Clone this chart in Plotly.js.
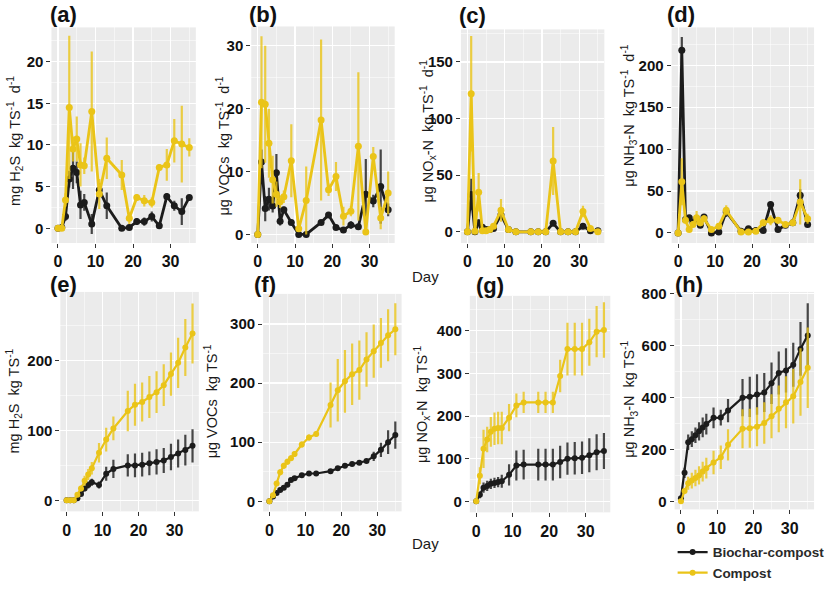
<!DOCTYPE html>
<html>
<head>
<meta charset="utf-8">
<script src="https://cdn.plot.ly/plotly-3.0.1.min.js"></script>
<style>html,body{margin:0;padding:0;background:#fff;}#chart{width:830px;height:589px;}</style>
</head>
<body>
<div id="chart"></div>
<script>
// ---- data ----
const days = [0,1,2,3,4,5,6,7,9,11,13,17,19,21,23,25,27,29,31,33,35];
const seriesNames = ["Biochar-compost", "Compost"];
const panelLabels = ["(a)","(b)","(c)","(d)","(e)","(f)","(g)","(h)"];
const yTitles = [
  "mg H<sub>2</sub>S\u00a0\u00a0kg TS<sup>-1</sup>\u00a0\u00a0d<sup>-1</sup>",
  "\u03bcg VOCs\u00a0\u00a0kg TS<sup>-1</sup>\u00a0\u00a0d<sup>-1</sup>",
  "\u03bcg NO<sub>x</sub>-N\u00a0\u00a0kg TS<sup>-1</sup>\u00a0\u00a0d<sup>-1</sup>",
  "\u03bcg NH<sub>3</sub>-N\u00a0\u00a0kg TS<sup>-1</sup>\u00a0\u00a0d<sup>-1</sup>",
  "mg H<sub>2</sub>S\u00a0\u00a0kg TS<sup>-1</sup>",
  "\u03bcg VOCs\u00a0\u00a0kg TS<sup>-1</sup>",
  "\u03bcg NO<sub>x</sub>-N\u00a0\u00a0kg TS<sup>-1</sup>",
  "\u03bcg NH<sub>3</sub>-N\u00a0\u00a0kg TS<sup>-1</sup>"
];
const xLabel = "Day";

// (a) H2S daily
const bc_a    = [0,0.1,1.4,5.9,7.2,6.7,2.8,3.1,0.5,4.6,2.7,0,0.1,0.8,0.8,1.4,0.3,3.8,2.7,2.0,3.7];
const bc_a_sd = [0.1,0.1,0.5,1.0,2.5,1.3,1.7,1.0,1.2,0.8,1.6,0.1,0.1,0.4,0.5,0.6,0.2,0.4,0.6,1.6,0.3];
const cp_a    = [0,0,3.4,14.5,9.5,10.7,7.6,7.5,14.0,4.1,8.4,6.4,1.2,3.7,3.3,3.1,7.3,7.6,10.5,10.1,9.7];
const cp_a_sd = [0.1,0.1,0.8,8.6,1.5,2.7,2.6,1.0,7.2,1.8,2.5,1.8,0.7,0.4,0.7,0.6,0.4,1.9,2.6,4.6,1.1];
// (b) VOCs daily
const bc_b    = [0,11.5,4.1,5.6,4.5,9.8,2.1,3.9,1.9,0,0,1.9,3.1,1.1,0.7,1.5,1.2,6.4,5.3,7.6,3.9];
const bc_b_sd = [0.1,2,2,1.8,1,3,0.7,0.5,0.4,0.2,0.2,0.4,0.3,0.3,0.3,0.6,0.3,5.6,1,5.9,1];
const cp_b    = [0,21,20.7,14.5,8.7,6.4,5.2,6.0,11.7,0.9,5.4,18.2,7.1,9.2,2.9,3.7,14.0,0.4,12.4,2.6,6.6];
const cp_b_sd = [0.1,10.5,9.3,5.5,3.8,2,1,1,5.8,0.5,5.4,12.8,1,2.3,1.5,0.8,11.8,0.3,1.5,1.8,3.4];
// (c) NOx-N daily
const bc_c    = [0,33,0,8,4,2,2,3,15,2,0,0,0,0,7.5,0,0,0,5,1,1];
const bc_c_sd = [0.5,14,0.5,3,2,1,1,1,3,1,0.3,0.3,0.3,0.3,2,0.3,0.3,0.3,2,0.5,0.5];
const cp_c    = [0,122,0.5,35,1,1,2,5,19,2,0,0,0,0,62.5,0,0,0,18,3,0];
const cp_c_sd = [0.5,51,0.5,17,1,1,1,2,10,1,0.3,0.3,0.3,0.3,30,0.3,0.3,0.3,5,1,0.3];
// (d) NH3-N daily
const bc_d    = [0,218,16,18,13,17,9,19,0,1,25,2,5,3,3,34,4,9,12,45,10];
const bc_d_sd = [1,16,3,3,3,3,3,3,1,1,6,1,1,1,1,3,2,2,2,7,2];
const cp_d    = [0,61,15,4,10,18,12,17,4,8,27,1,1,2,12,15,15,10,12,37,17];
const cp_d_sd = [1,28,4,3,4,8,4,4,2,3,6,1,1,1,4,6,4,2,3,27,6];
// (e) H2S cumulative
const bc_e    = [0,0,0,3,9,17,22,26,22,38,45,50,50,51,53,55,57,62,67,72,78];
const bc_e_sd = [0,0,0,1,2,4,5,5,5,10,13,16,17,17,17,18,18,19,20,22,24];
const cp_e    = [0,0,0,8,17,28,37,46,68,87,103,128,137,141,148,155,165,181,197,219,239];
const cp_e_sd = [0,0,0,2,4,7,8,9,14,17,17,29,30,28,30,30,30,31,36,41,43];
// (f) VOCs cumulative
const bc_f    = [0,8,14,19,23,28,36,39,44,47,47,51,56,60,63,65,68,76,87,100,112];
const bc_f_sd = [0,2,3,3,3,3,3,3,3,3,3,3,3,3,3,3,3,8,12,20,23];
const cp_f    = [0,10,30,49,60,67,73,80,96,108,114,163,188,203,215,222,240,254,268,281,291];
const cp_f_sd = [0,3,4,5,5,5,5,5,5,5,5,38,53,53,52,50,46,45,42,44,44];
// (g) NOx-N cumulative
const bc_g    = [0,15,32,36,41,43,45,47,62,84,86,86,86,86,92,100,101,102,108,115,118];
const bc_g_sd = [0,8,12,12,12,12,12,15,25,35,35,37,37,37,38,38,38,38,40,42,42];
const cp_g    = [0,60,123,145,163,170,172,172,196,225,232,232,232,232,294,357,357,357,373,398,402];
const cp_g_sd = [0,20,45,30,35,38,38,38,32,28,25,25,25,25,38,62,62,62,55,60,65];
// (h) NH3-N cumulative
const bc_h    = [12,110,228,240,255,270,285,298,322,323,350,400,403,412,420,455,495,505,527,588,640];
const bc_h_sd = [5,20,30,30,30,35,38,40,40,30,45,72,78,78,75,80,83,85,85,104,124];
const cp_h    = [0,40,70,80,90,100,115,128,150,170,218,280,282,288,302,328,357,382,405,460,515];
const cp_h_sd = [0,10,25,30,32,35,38,40,45,45,60,75,75,75,80,85,90,100,105,130,155];

// ---- layout helpers ----
const W = 830, H = 589;
const BLACK = "#1c1c1c", YELLOW = "#EAC418";
const BLACK_ERR = "rgba(40,40,40,0.85)", YELLOW_ERR = "rgba(234,196,24,0.8)";
const FAM = "Liberation Sans, Arial, sans-serif";

const panels = [
  {bc:bc_a, bcsd:bc_a_sd, cp:cp_a, cpsd:cp_a_sd, xd:[52,198],  yd:[28,248],  yr:[-1.76,24.1], dt:5,   top:true,  lab:[64,15],  tt:[15,144]},
  {bc:bc_b, bcsd:bc_b_sd, cp:cp_b, cpsd:cp_b_sd, xd:[254,399], yd:[27,248],  yr:[-1.36,33.07], dt:10, top:true,  lab:[266,15], tt:[225,149]},
  {bc:bc_c, bcsd:bc_c_sd, cp:cp_c, cpsd:cp_c_sd, xd:[466,611], yd:[30,248],  yr:[-9.8,178.8], dt:50,  top:true,  lab:[478,16], tt:[433,134]},
  {bc:bc_d, bcsd:bc_d_sd, cp:cp_d, cpsd:cp_d_sd, xd:[679,823], yd:[28,248],  yr:[-12,245.3],  dt:50,  top:true,  lab:[688,15], tt:[635,118]},
  {bc:bc_e, bcsd:bc_e_sd, cp:cp_e, cpsd:cp_e_sd, xd:[61,201],  yd:[298,522], yr:[-15.9,298.7], dt:100, top:false, lab:[64,290], tt:[14,409]},
  {bc:bc_f, bcsd:bc_f_sd, cp:cp_f, cpsd:cp_f_sd, xd:[266,406], yd:[300,522], yr:[-17.1,351],  dt:100, top:false, lab:[268,290], tt:[213,410]},
  {bc:bc_g, bcsd:bc_g_sd, cp:cp_g, cpsd:cp_g_sd, xd:[475,617], yd:[302,523], yr:[-26,482],    dt:100, top:false, lab:[495,291], tt:[426,412]},
  {bc:bc_h, bcsd:bc_h_sd, cp:cp_h, cpsd:cp_h_sd, xd:[682,823], yd:[298,520], yr:[-31,807.6],  dt:200, top:false, lab:[697,290], tt:[636,408]}
];

const traces = [];
const layout = {
  width: W, height: H, autosize: false,
  margin: {l:0, r:0, t:0, b:0},
  paper_bgcolor: "#ffffff",
  plot_bgcolor: "#EBEBEB",
  font: {family: FAM, color: "#1a1a1a"},
  showlegend: true,
  legend: {
    x: 680/W, y: 1 - 548/H, xanchor: "left", yanchor: "top",
    bgcolor: "rgba(255,255,255,0)", borderwidth: 0,
    font: {size: 13.5, color: "#2a2a2a", weight: "bold", family: FAM},
    itemwidth: 30, tracegroupgap: 0
  },
  annotations: [],
  shapes: []
};

panels.forEach((p, i) => {
  const n = i + 1;
  const xa = n === 1 ? "x" : "x" + n;
  const ya = n === 1 ? "y" : "y" + n;
  const lw = p.top ? 2.8 : 2.2;
  const ms = p.top ? 7 : 6;
  const common = {x: days, mode: "lines+markers", xaxis: xa, yaxis: ya, cliponaxis: true};
  traces.push(Object.assign({}, common, {
    y: p.bc, name: seriesNames[0], legendgroup: "bc", showlegend: n === 8,
    line: {color: BLACK, width: lw}, marker: {color: BLACK, size: ms},
    error_y: {type: "data", array: p.bcsd, visible: true, color: BLACK_ERR, thickness: 2.2, width: 0}
  }));
  traces.push(Object.assign({}, common, {
    y: p.cp, name: seriesNames[1], legendgroup: "cp", showlegend: n === 8,
    line: {color: YELLOW, width: lw}, marker: {color: YELLOW, size: ms},
    error_y: {type: "data", array: p.cpsd, visible: true, color: YELLOW_ERR, thickness: 2.2, width: 0}
  }));

  const axFont = {size: 15, color: "#111111", weight: "bold", family: FAM};
  layout["xaxis" + (n === 1 ? "" : n)] = {
    domain: [p.xd[0]/W, p.xd[1]/W], anchor: ya,
    range: [-1.75, 36.75], tickmode: "linear", tick0: 0, dtick: 10,
    showgrid: true, gridcolor: "#ffffff", gridwidth: 1.2,
    minor: {dtick: 5, tick0: 0, showgrid: true, gridcolor: "#ffffff", gridwidth: 0.5},
    zeroline: false, showline: false,
    ticks: "outside", ticklen: 4, tickwidth: 1, tickcolor: "#333333",
    tickfont: Object.assign({}, axFont, {size: 16}), automargin: false, fixedrange: true
  };
  layout["yaxis" + (n === 1 ? "" : n)] = {
    domain: [1 - p.yd[1]/H, 1 - p.yd[0]/H], anchor: xa,
    range: p.yr, tickmode: "linear", tick0: 0, dtick: p.dt,
    showgrid: true, gridcolor: "#ffffff", gridwidth: 1.2,
    minor: {dtick: p.dt/2, tick0: 0, showgrid: true, gridcolor: "#ffffff", gridwidth: 0.5},
    zeroline: false, showline: false,
    ticks: "outside", ticklen: 4, tickwidth: 1, tickcolor: "#333333",
    tickfont: axFont, automargin: false, fixedrange: true
  };
  layout.annotations.push({
    text: panelLabels[i], xref: "paper", yref: "paper",
    x: p.lab[0]/W, y: 1 - p.lab[1]/H, xanchor: "center", yanchor: "middle",
    showarrow: false, font: {size: 22, weight: "bold", color: "#111111", family: FAM}
  });
  layout.annotations.push({
    text: yTitles[i], xref: "paper", yref: "paper",
    x: p.tt[0]/W, y: 1 - p.tt[1]/H, xanchor: "center", yanchor: "middle",
    textangle: -90, showarrow: false,
    font: {size: 14.5, color: "#1a1a1a", family: FAM}
  });
});

[[430, 282], [430, 555]].forEach(pt => {
  layout.annotations.push({
    text: xLabel, xref: "paper", yref: "paper",
    x: pt[0]/W, y: 1 - pt[1]/H, xanchor: "center", yanchor: "middle",
    showarrow: false, font: {size: 15, color: "#1a1a1a", family: FAM}
  });
});

Plotly.newPlot("chart", traces, layout, {displayModeBar: false, staticPlot: true});
</script>
</body>
</html>
